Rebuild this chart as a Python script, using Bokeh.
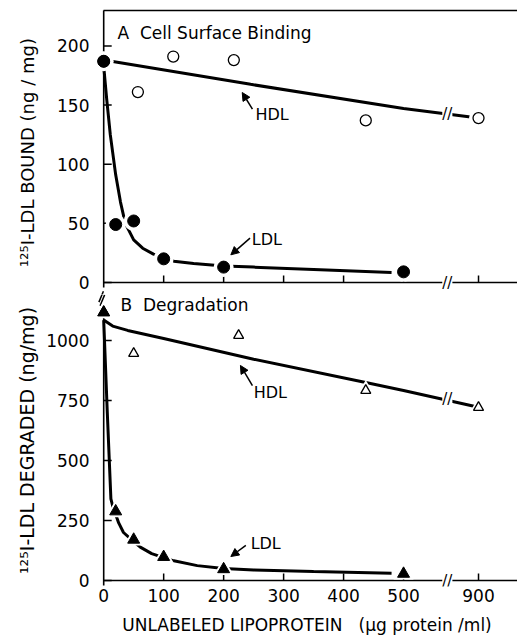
import numpy as np
from bokeh.plotting import figure
from bokeh.layouts import column
from bokeh.models import Range1d, LinearAxis, FixedTicker, Label, Arrow, NormalHead, Title
from bokeh.embed import file_html
from bokeh.resources import INLINE

# ---------------- data ----------------
conc_ldl = [0, 20, 50, 100, 200, 500]
bound_ldl = [187, 49, 52, 20, 13, 9]
conc_hdl_bind = [0, 57, 116, 217, 437, 900]
bound_hdl = [187, 161, 191, 188, 137, 139]

conc_hdl_deg = [0, 50, 225, 437, 900]
degraded_hdl = [1117, 946, 1021, 792, 721]
degraded_ldl = [1117, 288, 170, 98, 47, 28]

# drawn curves
fit_bind_hdl_x = [0, 245, 500, 900]
fit_bind_hdl_y = [188, 167.5, 147, 139]
fit_bind_ldl_x = [0, 5, 11, 20, 28, 36, 50, 65, 83, 117, 150, 200, 250, 350, 480]
fit_bind_ldl_y = [183, 155, 125, 91, 68, 50, 36, 29, 24, 18, 16, 14, 13, 11, 8.5]
fit_deg_hdl_x = [0, 15, 40, 100, 250, 435, 500, 900]
fit_deg_hdl_y = [1085, 1060, 1042, 1008, 922, 826, 792, 722]
fit_deg_ldl_x = [0, 6, 12, 16, 20, 25, 33, 50, 61, 80, 100, 117, 156, 200, 250, 350, 480]
fit_deg_ldl_y = [1085, 700, 340, 300, 275, 240, 200, 162, 139, 112, 95, 82, 62, 50, 44, 37, 30]

x_ticks = [0, 100, 200, 300, 400, 500, 900]
bind_ticks = [0, 50, 100, 150, 200]
deg_ticks = [0, 250, 500, 750, 1000]

# broken x axis: 500 -> 900 compressed
BREAK_FROM, BREAK_TO, TO_POS = 500, 900, 625
BREAK_MARK = 573


def xd(x):
    a = np.asarray(x, dtype=float)
    return np.where(a <= BREAK_FROM, a,
                    BREAK_FROM + (a - BREAK_FROM) * (TO_POS - BREAK_FROM) / (BREAK_TO - BREAK_FROM))


FONT = "DejaVu Sans"
X0, X1 = -12, 690
PX_X = 421 / (X1 - X0)          # pixels per x unit

# screen layout (pixels from the top of the page)
A_TOP, A_ZERO, SPLIT, B_ZERO, B_BOTTOM = 10, 282, 294, 580, 586
PX_A = 1.183                    # pixels per ng/mg, panel A
PX_B = 0.24                     # pixels per ng/mg, panel B


def label_axis(ax, size="17px"):
    ax.axis_line_color = None
    ax.major_tick_line_color = None
    ax.minor_tick_line_color = None
    ax.major_tick_in = 0
    ax.major_tick_out = 0
    ax.major_label_text_font = FONT
    ax.major_label_text_color = "black"
    ax.major_label_text_font_size = size


def draw_axes(p, yticks, ytop, px_y):
    """axis lines and inward ticks drawn at x = 0 and y = 0 inside the frame"""
    xt = xd(x_ticks[1:])
    p.segment(x0=[0, 0], y0=[-5 / px_y, 0], x1=[0, X1], y1=[ytop, 0],
              line_color="black", line_width=1.6)
    p.segment(x0=np.zeros(len(yticks)), y0=yticks, x1=np.full(len(yticks), 8 / PX_X), y1=yticks,
              line_color="black", line_width=1.5)
    p.segment(x0=xt, y0=np.zeros(len(xt)), x1=xt, y1=np.full(len(xt), 7 / px_y),
              line_color="black", line_width=1.5)


def axis_break(p, zero, px_y):
    """the // between the two panels on the left axis (drawn in both panels, each clips its part)"""
    sx0 = np.array([102.9, 104.1]); sy0 = np.array([290.8, 294.4])
    sx1 = np.array([98.4, 99.6]); sy1 = np.array([301.6, 305.2])
    p.segment(x0=(sx0 - 103.2) / PX_X, y0=(zero - sy0) / px_y,
              x1=(sx1 - 103.2) / PX_X, y1=(zero - sy1) / px_y,
              line_width=1.5, line_color="black")


def halo(p, x, y, marker, size):
    p.scatter(x, y, marker=marker, size=size + 8, fill_color="white", line_color=None)


def brk(p, x, y):
    p.add_layout(Label(x=x, y=y, text="//", text_font=FONT, text_font_size="15px",
                       text_align="center", text_baseline="middle", text_color="black",
                       background_fill_color="white"))


def arrow(p, xs, ys, xe, ye):
    p.add_layout(Arrow(end=NormalHead(size=8, fill_color="black", line_color="black", line_width=1),
                       x_start=xs, y_start=ys, x_end=xe, y_end=ye,
                       line_width=1.5, line_color="black"))


def txt(p, x, y, s, size="16px"):
    p.add_layout(Label(x=x, y=y, text=s, text_font=FONT, text_font_size=size,
                       text_align="left", text_baseline="middle", text_color="black"))


# ---------------- panel A ----------------
A_LO = -(SPLIT - A_ZERO) / PX_A
pa = figure(width=517, height=SPLIT, x_range=Range1d(X0, X1),
            y_range=Range1d(A_LO, A_LO + (SPLIT - A_TOP) / PX_A),
            output_backend="svg", toolbar_location=None, x_axis_location=None,
            min_border_left=96, min_border_right=0, min_border_top=A_TOP, min_border_bottom=0,
            background_fill_color="white", border_fill_color="white", outline_line_color=None)
pa.grid.grid_line_color = None
ya = pa.yaxis[0]
ya.ticker = FixedTicker(ticks=bind_ticks)
label_axis(ya)
ya.major_label_standoff = 7
ya.axis_label = "\u00b9\u00b2\u2075I-LDL BOUND (ng / mg)"
ya.axis_label_text_font = FONT
ya.axis_label_text_font_size = "18px"
ya.axis_label_text_font_style = "normal"
ya.axis_label_text_color = "black"
ya.axis_label_standoff = 16
top = LinearAxis(ticker=FixedTicker(ticks=[]), major_tick_in=0, major_tick_out=0,
                 minor_tick_line_color=None, major_label_text_font_size="0px",
                 major_label_standoff=0, axis_line_width=1.6, axis_line_color="black",
                 bounds=(0, X1))
pa.add_layout(top, "above")
draw_axes(pa, bind_ticks, 240, PX_A)
axis_break(pa, A_ZERO, PX_A)

pa.line(xd(fit_bind_hdl_x), fit_bind_hdl_y, line_width=3, line_color="black")
pa.line(xd(fit_bind_ldl_x), fit_bind_ldl_y, line_width=3, line_color="black")
halo(pa, xd(conc_ldl), bound_ldl, "circle", 12)
halo(pa, xd(conc_hdl_bind), bound_hdl, "circle", 11)
pa.scatter(xd(conc_ldl), bound_ldl, marker="circle", size=12, fill_color="black", line_color="black")
pa.scatter(xd(conc_hdl_bind), bound_hdl, marker="circle", size=11, fill_color="white",
           line_color="black", line_width=1.3)
pa.scatter(xd(conc_ldl[:1]), bound_ldl[:1], marker="circle", size=11, fill_color="black", line_color="black")

txt(pa, 23, 211, "A\u00a0\u00a0Cell Surface Binding", size="17px")
txt(pa, 253, 142, "HDL")
arrow(pa, 248, 146.6, 231, 160.6)
txt(pa, 247, 36, "LDL")
arrow(pa, 244, 37.5, 212, 23.4)
brk(pa, BREAK_MARK, 0)
brk(pa, BREAK_MARK, 142.3)

# ---------------- panel B ----------------
B_LO = -(B_BOTTOM - B_ZERO) / PX_B
pb = figure(width=517, height=640 - SPLIT, x_range=Range1d(X0, X1),
            y_range=Range1d(B_LO, B_LO + (B_BOTTOM - SPLIT) / PX_B),
            output_backend="svg", toolbar_location=None,
            min_border_left=96, min_border_right=0, min_border_top=0, min_border_bottom=640 - B_BOTTOM,
            background_fill_color="white", border_fill_color="white", outline_line_color=None)
pb.grid.grid_line_color = None
yb = pb.yaxis[0]
yb.ticker = FixedTicker(ticks=deg_ticks)
label_axis(yb)
yb.major_label_standoff = 7
pb.add_layout(Title(text="\u00b9\u00b2\u2075I-LDL DEGRADED (ng/mg)", align="center",
                    text_font=FONT, text_font_size="19px", text_font_style="normal",
                    text_color="black", offset=-27, standoff=12), "left")
xb = pb.xaxis[0]
xb.ticker = FixedTicker(ticks=[float(v) for v in xd(x_ticks)])
xb.major_label_overrides = {float(xd(t)): str(t) for t in x_ticks}
label_axis(xb)
xb.major_label_standoff = 2
xb.axis_label = "UNLABELED LIPOPROTEIN\u00a0\u00a0\u00a0(\u03bcg protein /ml)"
xb.axis_label_text_font = FONT
xb.axis_label_text_font_size = "17px"
xb.axis_label_text_font_style = "normal"
xb.axis_label_text_color = "black"
xb.axis_label_standoff = 10
draw_axes(pb, deg_ticks, 1100, PX_B)
axis_break(pb, B_ZERO, PX_B)

pb.line(xd(fit_deg_hdl_x), fit_deg_hdl_y, line_width=3, line_color="black")
pb.line(xd(fit_deg_ldl_x), fit_deg_ldl_y, line_width=3, line_color="black")
halo(pb, xd(conc_ldl), degraded_ldl, "triangle", 12)
halo(pb, xd(conc_hdl_deg), degraded_hdl, "triangle", 10)
pb.scatter(xd(conc_ldl), degraded_ldl, marker="triangle", size=12, fill_color="black", line_color="black")
pb.scatter(xd(conc_hdl_deg), degraded_hdl, marker="triangle", size=10, fill_color="white",
           line_color="black", line_width=1.3)
pb.scatter(xd(conc_ldl[:1]), degraded_ldl[:1], marker="triangle", size=11, fill_color="black", line_color="black")

txt(pb, 28, 1146, "B\u00a0\u00a0Degradation", size="17px")
txt(pb, 250, 785, "HDL")
arrow(pb, 248, 812, 228, 896)
txt(pb, 245, 154, "LDL")
arrow(pb, 237, 146, 212, 100)
brk(pb, BREAK_MARK, 0)
brk(pb, BREAK_MARK, 757)

layout = column(pa, pb, spacing=0)
open("out.html", "w").write(file_html(layout, INLINE))
